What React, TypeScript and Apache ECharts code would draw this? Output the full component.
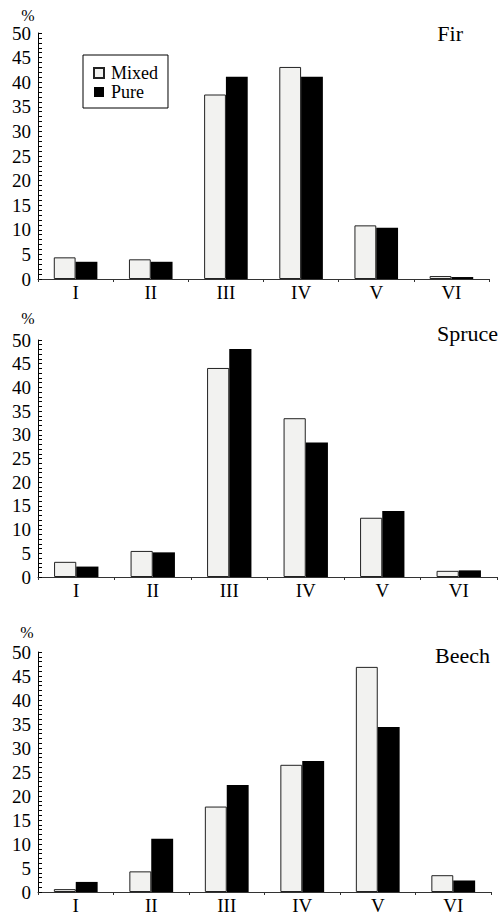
import React, { useEffect, useRef } from "react";
import * as echarts from "echarts";

const categories = ["I", "II", "III", "IV", "V", "VI"];
const firMixed = [4.4, 4.0, 37.5, 43.1, 10.9, 0.6];
const firPure = [3.5, 3.5, 41.1, 41.1, 10.4, 0.4];
const spruceMixed = [3.2, 5.5, 44.1, 33.5, 12.5, 1.3];
const sprucePure = [2.2, 5.2, 48.1, 28.4, 13.9, 1.4];
const beechMixed = [0.6, 4.3, 17.8, 26.5, 46.9, 3.5];
const beechPure = [2.1, 11.1, 22.3, 27.3, 34.4, 2.4];
const panelTitles = ["Fir", "Spruce", "Beech"];
const seriesNames = ["Mixed", "Pure"];

const FONT = "Liberation Serif";

export default function App() {
  const ref = useRef<HTMLDivElement>(null);
  useEffect(() => {
    if (!ref.current) return;
    const chart = echarts.init(ref.current, null, { renderer: "svg" });
    const grids = [
      { left: 38, top: 33, width: 451, height: 246 },
      { left: 38, top: 340, width: 459, height: 237 },
      { left: 38, top: 652, width: 453, height: 245 },
    ];
    const data = [
      [firMixed, firPure],
      [spruceMixed, sprucePure],
      [beechMixed, beechPure],
    ];
    const xAxes = grids.map((_, i) => ({
      type: "category",
      gridIndex: i,
      data: categories,
      boundaryGap: true,
      axisLine: { lineStyle: { color: "#333", width: 1 } },
      axisTick: { show: true, length: 3, lineStyle: { color: "#333" } },
      axisLabel: { color: "#000", fontFamily: FONT, fontSize: 19, margin: 4 },
    }));
    const yAxes = grids.map((_, i) => ({
      type: "value",
      gridIndex: i,
      min: 0,
      max: 50,
      interval: 5,
      axisLine: { show: true, lineStyle: { color: "#000", width: 1 } },
      axisTick: { show: true, inside: true, length: 4, lineStyle: { color: "#000" } },
      minorTick: { show: true, splitNumber: 5, length: 4, lineStyle: { color: "#000" } },
      splitLine: { show: false },
      axisLabel: { color: "#000", fontFamily: FONT, fontSize: 19, margin: 7 },
    }));
    const series: any[] = [];
    data.forEach((pair, i) => {
      series.push({
        type: "bar",
        name: seriesNames[0],
        xAxisIndex: i,
        yAxisIndex: i,
        data: pair[0],
        barGap: "0%",
        barCategoryGap: "42%",
        itemStyle: { color: "#f2f2f0", borderColor: "#222", borderWidth: 1 },
      });
      series.push({
        type: "bar",
        name: seriesNames[1],
        xAxisIndex: i,
        yAxisIndex: i,
        data: pair[1],
        barGap: "0%",
        barCategoryGap: "42%",
        itemStyle: { color: "#000" },
      });
    });
    const titlePos = [
      { x: 463, y: 33 },
      { x: 498, y: 333 },
      { x: 490, y: 655 },
    ];
    const pctPos = [
      { x: 28, y: 15 },
      { x: 28, y: 318 },
      { x: 27, y: 632 },
    ];
    const graphic: any[] = [];
    panelTitles.forEach((t, i) => {
      graphic.push({
        type: "text",
        x: titlePos[i].x,
        y: titlePos[i].y,
        style: {
          text: t,
          fill: "#000",
          fontFamily: FONT,
          fontSize: 22,
          fontWeight: "normal",
          textAlign: "right",
          textVerticalAlign: "middle",
        },
      });
      graphic.push({
        type: "text",
        x: pctPos[i].x,
        y: pctPos[i].y,
        style: {
          text: "%",
          fill: "#000",
          fontFamily: FONT,
          fontSize: 16,
          fontWeight: "normal",
          textAlign: "center",
          textVerticalAlign: "middle",
        },
      });
    });
    chart.setOption({
      animation: false,
      backgroundColor: "#fff",
      grid: grids,
      xAxis: xAxes,
      yAxis: yAxes,
      legend: {
        data: seriesNames,
        orient: "vertical",
        left: 83,
        top: 55,
        width: 84,
        padding: [9, 10, 7, 10],
        itemGap: 1,
        itemWidth: 10,
        itemHeight: 10,
        icon: "rect",
        borderColor: "#000",
        borderWidth: 1,
        selectedMode: false,
        textStyle: { color: "#000", fontFamily: FONT, fontSize: 18, padding: [0, 0, 0, 2] },
      },
      graphic,
      series,
    });
    return () => chart.dispose();
  }, []);
  return (
    <div
      ref={ref}
      style={{ position: "absolute", left: 0, top: 0, width: 501, height: 915 }}
    />
  );
}
